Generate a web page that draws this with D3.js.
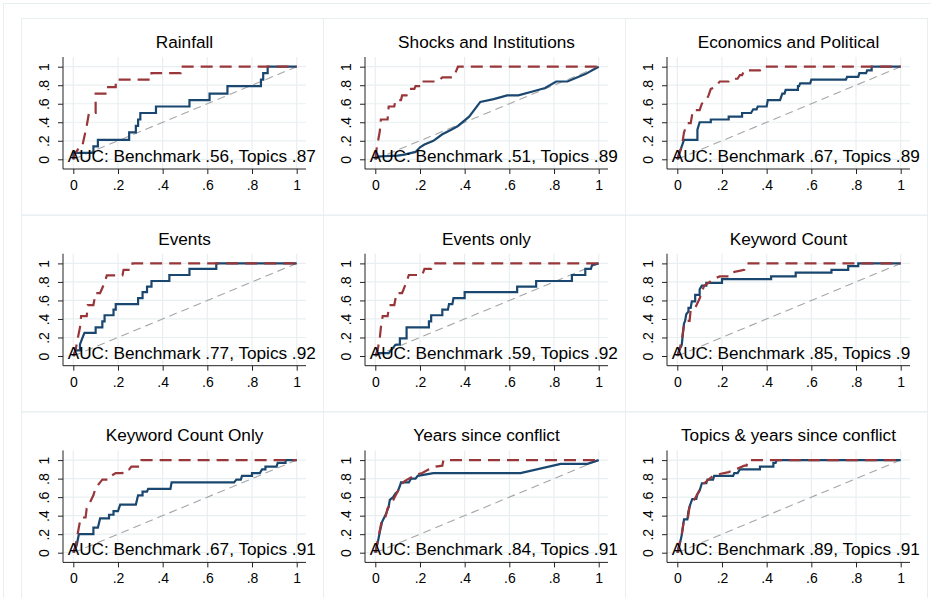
<!DOCTYPE html>
<html>
<head>
<meta charset="utf-8">
<script src="https://cdn.jsdelivr.net/npm/d3@7"></script>
<style>
  body { margin: 0; background: #fff; }
  svg { display: block; font-family: "Liberation Sans", Arial, Helvetica, sans-serif; }
</style>
</head>
<body>
<div id="chart"></div>
<script>
const width = 931;
const height = 598;

const titles = ["Rainfall", "Shocks and Institutions", "Economics and Political",
  "Events", "Events only", "Keyword Count",
  "Keyword Count Only", "Years since conflict", "Topics & years since conflict"];
const aucBenchmark = [".56", ".51", ".67", ".77", ".59", ".85", ".67", ".84", ".89"];
const aucTopics = [".87", ".89", ".89", ".92", ".92", ".9", ".91", ".91", ".91"];
const tickValues = [0, 0.2, 0.4, 0.6, 0.8, 1];
const tickLabels = ["0", ".2", ".4", ".6", ".8", "1"];

// ROC points [false positive rate, true positive rate]
const rainfallTopics = [[0,0],[0.01,0.07],[0.03,0.14],[0.04,0.14],[0.06,0.36],[0.07,0.5],[0.1,0.5],[0.1,0.71],[0.15,0.71],[0.15,0.78],[0.19,0.78],[0.19,0.86],[0.35,0.86],[0.35,0.93],[0.48,0.93],[0.48,1],[1,1]];
const rainfallBench = [[0,0],[0,0.07],[0.09,0.07],[0.09,0.14],[0.11,0.14],[0.11,0.21],[0.25,0.21],[0.25,0.29],[0.28,0.29],[0.28,0.36],[0.29,0.36],[0.29,0.43],[0.3,0.43],[0.3,0.5],[0.37,0.5],[0.37,0.57],[0.52,0.57],[0.52,0.64],[0.61,0.64],[0.61,0.71],[0.69,0.71],[0.69,0.79],[0.84,0.79],[0.84,0.86],[0.85,0.86],[0.85,0.93],[0.87,0.93],[0.87,1],[1,1]];

const shocksTopics = [[0,0],[0.005,0.1],[0.02,0.3],[0.025,0.43],[0.055,0.43],[0.06,0.57],[0.085,0.57],[0.09,0.64],[0.115,0.64],[0.12,0.69],[0.14,0.69],[0.15,0.76],[0.175,0.76],[0.18,0.79],[0.21,0.79],[0.21,0.84],[0.28,0.84],[0.3,0.885],[0.35,0.885],[0.37,1],[1,1]];
const shocksBench = [[0,0],[0.01,0.03],[0.1,0.04],[0.13,0.05],[0.18,0.08],[0.2,0.13],[0.22,0.16],[0.26,0.2],[0.3,0.27],[0.34,0.32],[0.37,0.36],[0.42,0.46],[0.47,0.62],[0.53,0.65],[0.59,0.69],[0.64,0.69],[0.7,0.73],[0.76,0.77],[0.81,0.84],[0.86,0.84],[0.94,0.92],[1,1]];

const econTopics = [[0,0],[0.02,0.14],[0.03,0.29],[0.04,0.36],[0.045,0.39],[0.06,0.39],[0.07,0.53],[0.1,0.53],[0.11,0.6],[0.13,0.64],[0.14,0.69],[0.15,0.76],[0.17,0.78],[0.19,0.84],[0.23,0.84],[0.24,0.87],[0.27,0.87],[0.28,0.91],[0.29,0.91],[0.3,0.96],[0.37,0.96],[0.38,1],[1,1]];
const econBench = [[0,0],[0.01,0.07],[0.02,0.14],[0.03,0.21],[0.09,0.21],[0.09,0.32],[0.1,0.4],[0.15,0.4],[0.15,0.43],[0.23,0.43],[0.23,0.46],[0.29,0.46],[0.29,0.5],[0.33,0.5],[0.34,0.54],[0.355,0.54],[0.36,0.57],[0.4,0.57],[0.405,0.64],[0.46,0.64],[0.47,0.71],[0.48,0.71],[0.485,0.75],[0.54,0.75],[0.54,0.79],[0.545,0.79],[0.55,0.82],[0.595,0.82],[0.6,0.86],[0.755,0.86],[0.76,0.89],[0.81,0.89],[0.815,0.93],[0.845,0.93],[0.85,0.96],[0.87,0.96],[0.87,1],[1,1]];

const eventsTopics = [[0,0],[0.01,0.06],[0.02,0.19],[0.03,0.31],[0.035,0.43],[0.06,0.43],[0.065,0.55],[0.09,0.55],[0.1,0.68],[0.12,0.68],[0.14,0.79],[0.15,0.87],[0.22,0.87],[0.225,0.93],[0.26,0.93],[0.265,1],[1,1]];
const eventsBench = [[0,0],[0.01,0.06],[0.03,0.06],[0.03,0.125],[0.04,0.19],[0.05,0.25],[0.1,0.25],[0.1,0.31],[0.13,0.31],[0.13,0.375],[0.14,0.375],[0.14,0.44],[0.18,0.44],[0.18,0.5],[0.19,0.5],[0.19,0.56],[0.29,0.56],[0.29,0.625],[0.31,0.625],[0.31,0.69],[0.33,0.69],[0.33,0.75],[0.35,0.75],[0.35,0.81],[0.43,0.81],[0.43,0.875],[0.52,0.875],[0.52,0.94],[0.64,0.94],[0.64,1],[1,1]];

const eventsOnlyTopics = [[0,0],[0.01,0.06],[0.02,0.19],[0.025,0.31],[0.033,0.43],[0.055,0.43],[0.063,0.55],[0.085,0.55],[0.095,0.68],[0.12,0.68],[0.14,0.8],[0.15,0.875],[0.21,0.875],[0.22,0.94],[0.25,0.94],[0.255,1],[1,1]];
const eventsOnlyBench = [[0,0],[0.01,0.03],[0.06,0.03],[0.07,0.06],[0.09,0.12],[0.11,0.125],[0.11,0.19],[0.14,0.19],[0.14,0.31],[0.24,0.31],[0.24,0.375],[0.25,0.375],[0.25,0.44],[0.3,0.44],[0.3,0.5],[0.325,0.5],[0.33,0.56],[0.345,0.56],[0.35,0.625],[0.4,0.625],[0.4,0.69],[0.635,0.69],[0.635,0.75],[0.72,0.75],[0.72,0.81],[0.88,0.81],[0.88,0.875],[0.94,0.875],[0.94,0.94],[0.965,0.94],[0.97,0.98],[1,1]];

const keywordTopics = [[0,0],[0.01,0.07],[0.02,0.17],[0.03,0.34],[0.04,0.38],[0.055,0.38],[0.06,0.5],[0.08,0.52],[0.09,0.57],[0.1,0.62],[0.11,0.69],[0.12,0.76],[0.14,0.79],[0.16,0.83],[0.19,0.86],[0.23,0.86],[0.24,0.9],[0.3,0.93],[0.31,1],[1,1]];
const keywordBench = [[0,0],[0.01,0.07],[0.02,0.12],[0.025,0.24],[0.03,0.35],[0.035,0.38],[0.04,0.45],[0.05,0.48],[0.05,0.52],[0.06,0.52],[0.065,0.59],[0.08,0.59],[0.08,0.66],[0.1,0.66],[0.1,0.72],[0.11,0.76],[0.13,0.76],[0.13,0.79],[0.2,0.79],[0.2,0.83],[0.42,0.83],[0.42,0.86],[0.53,0.86],[0.53,0.9],[0.69,0.9],[0.69,0.93],[0.765,0.93],[0.765,0.97],[0.81,0.97],[0.81,1],[1,1]];

const keywordOnlyTopics = [[0,0],[0.01,0.07],[0.02,0.21],[0.03,0.34],[0.035,0.38],[0.055,0.38],[0.06,0.48],[0.07,0.52],[0.09,0.62],[0.1,0.7],[0.12,0.76],[0.13,0.79],[0.16,0.79],[0.17,0.83],[0.19,0.86],[0.22,0.86],[0.23,0.9],[0.25,0.9],[0.26,0.93],[0.3,0.93],[0.305,1],[1,1]];
const keywordOnlyBench = [[0,0],[0.015,0.08],[0.025,0.2],[0.09,0.2],[0.09,0.27],[0.11,0.27],[0.12,0.37],[0.16,0.37],[0.16,0.41],[0.18,0.41],[0.18,0.45],[0.2,0.45],[0.21,0.52],[0.28,0.52],[0.29,0.62],[0.31,0.62],[0.31,0.66],[0.33,0.66],[0.335,0.69],[0.435,0.69],[0.44,0.76],[0.72,0.76],[0.73,0.79],[0.75,0.79],[0.755,0.83],[0.8,0.83],[0.8,0.86],[0.835,0.86],[0.845,0.9],[0.86,0.9],[0.86,0.93],[0.91,0.93],[0.915,0.97],[0.95,0.97],[0.95,1],[1,1]];

const yearsTopics = [[0,0],[0.01,0.12],[0.02,0.24],[0.03,0.36],[0.045,0.38],[0.055,0.48],[0.07,0.52],[0.085,0.59],[0.1,0.66],[0.115,0.73],[0.13,0.77],[0.15,0.8],[0.18,0.84],[0.21,0.86],[0.24,0.9],[0.27,0.93],[0.3,0.94],[0.305,1],[1,1]];
const yearsBench = [[0,0],[0.01,0.1],[0.02,0.22],[0.03,0.33],[0.04,0.38],[0.05,0.43],[0.06,0.5],[0.065,0.57],[0.08,0.6],[0.09,0.64],[0.1,0.66],[0.11,0.72],[0.115,0.76],[0.15,0.76],[0.16,0.8],[0.18,0.8],[0.19,0.83],[0.26,0.86],[0.65,0.86],[0.83,0.96],[0.95,0.96],[1,1]];

const bothTopics = [[0,0],[0.01,0.1],[0.02,0.2],[0.03,0.36],[0.048,0.38],[0.055,0.5],[0.067,0.53],[0.082,0.6],[0.1,0.68],[0.115,0.74],[0.135,0.78],[0.16,0.83],[0.19,0.85],[0.23,0.87],[0.26,0.9],[0.3,0.94],[0.31,0.94],[0.315,1],[1,1]];
const bothBench = [[0,0],[0.01,0.08],[0.02,0.19],[0.03,0.36],[0.045,0.36],[0.05,0.45],[0.058,0.52],[0.067,0.58],[0.085,0.58],[0.09,0.63],[0.1,0.67],[0.11,0.75],[0.13,0.75],[0.135,0.79],[0.16,0.79],[0.165,0.83],[0.25,0.83],[0.255,0.86],[0.27,0.86],[0.28,0.9],[0.37,0.9],[0.37,0.93],[0.43,0.93],[0.43,0.97],[0.44,0.97],[0.445,1],[1,1]];

const topicsCurves = [rainfallTopics, shocksTopics, econTopics, eventsTopics, eventsOnlyTopics,
  keywordTopics, keywordOnlyTopics, yearsTopics, bothTopics];
const benchCurves = [rainfallBench, shocksBench, econBench, eventsBench, eventsOnlyBench,
  keywordBench, keywordOnlyBench, yearsBench, bothBench];

const cellW = 302;
const cellH = 196.7;
const left0 = 21;
const top0 = 18;
const gridColor = "#e8eff1";
const blue = "#1a476f";
const red = "#983639";

const svg = d3.select("#chart")
  .append("svg")
  .attr("width", width)
  .attr("height", height);

svg.append("rect")
  .attr("x", 3.5).attr("y", 3.5)
  .attr("width", 960).attr("height", 640)
  .attr("fill", "none")
  .attr("stroke", gridColor);

const line = d3.line();

titles.forEach((title, i) => {
  const col = i % 3;
  const row = Math.floor(i / 3);
  const L = left0 + col * cellW;
  const T = top0 + row * cellH;

  const g = svg.append("g").attr("class", "panel");

  g.append("rect")
    .attr("x", L + 0.5).attr("y", T + 0.5)
    .attr("width", cellW).attr("height", cellH)
    .attr("fill", "none")
    .attr("stroke", gridColor);

  const x = d3.scaleLinear().domain([0, 1]).range([L + 52.3, L + 275.7]);
  const y = d3.scaleLinear().domain([0, 1]).range([T + 141.3, T + 48.7]);
  const axisLeft = L + 42;
  const axisRight = L + 285;
  const axisTop = T + 39;
  const axisBottom = T + 151;

  // gridlines
  g.selectAll(".hgrid")
    .data(tickValues)
    .enter()
    .append("line")
    .attr("x1", axisLeft).attr("x2", axisRight)
    .attr("y1", d => y(d)).attr("y2", d => y(d))
    .attr("stroke", gridColor).attr("stroke-width", 1.2);

  g.selectAll(".vgrid")
    .data(tickValues)
    .enter()
    .append("line")
    .attr("x1", d => x(d)).attr("x2", d => x(d))
    .attr("y1", axisTop).attr("y2", axisBottom)
    .attr("stroke", gridColor).attr("stroke-width", 1.2);

  // diagonal reference
  g.append("path")
    .attr("d", line([[x(0), y(0)], [x(1), y(1)]]))
    .attr("fill", "none")
    .attr("stroke", "#a6a6a6")
    .attr("stroke-width", 1.1)
    .attr("stroke-dasharray", "8,5");

  g.append("path")
    .attr("d", line(benchCurves[i].map(d => [x(d[0]), y(d[1])])))
    .attr("fill", "none")
    .attr("stroke", blue)
    .attr("stroke-width", 2.2)
    .attr("stroke-linejoin", "miter");

  g.append("path")
    .attr("d", line(topicsCurves[i].map(d => [x(d[0]), y(d[1])])))
    .attr("fill", "none")
    .attr("stroke", red)
    .attr("stroke-width", 2.2)
    .attr("stroke-dasharray", "12,7");

  // axes
  const yAxis = d3.axisLeft(y)
    .tickValues(tickValues)
    .tickFormat((d, k) => tickLabels[k])
    .tickSize(5)
    .tickSizeOuter(0);
  const ya = g.append("g")
    .attr("transform", "translate(" + axisLeft + ",0)")
    .call(yAxis);
  ya.select(".domain").attr("d", "M0," + axisTop + "V" + axisBottom);
  ya.selectAll(".tick line").attr("stroke", "#222");
  ya.selectAll(".tick text")
    .attr("x", null).attr("dy", null)
    .attr("text-anchor", "middle")
    .attr("transform", "translate(-14,0) rotate(-90)")
    .attr("font-size", "14px")
    .attr("font-family", "Liberation Sans, Arial, sans-serif")
    .attr("fill", "#000");

  const xAxis = d3.axisBottom(x)
    .tickValues(tickValues)
    .tickFormat((d, k) => tickLabels[k])
    .tickSize(5)
    .tickSizeOuter(0);
  const xa = g.append("g")
    .attr("transform", "translate(0," + axisBottom + ")")
    .call(xAxis);
  xa.select(".domain").attr("d", "M" + axisLeft + ",0H" + axisRight);
  xa.selectAll(".tick line").attr("stroke", "#222");
  xa.selectAll(".tick text")
    .attr("y", 21).attr("dy", null)
    .attr("font-size", "14px")
    .attr("font-family", "Liberation Sans, Arial, sans-serif")
    .attr("fill", "#000");
  ya.select(".domain").attr("stroke", "#222");
  xa.select(".domain").attr("stroke", "#222");

  g.append("text")
    .attr("x", (axisLeft + axisRight) / 2)
    .attr("y", T + 30)
    .attr("text-anchor", "middle")
    .attr("font-size", "17.2px")
    .attr("fill", "#000")
    .text(title);

  g.append("text")
    .attr("x", x(-0.025))
    .attr("y", y(-0.03))
    .attr("font-size", "17.2px")
    .attr("fill", "#000")
    .text("AUC: Benchmark " + aucBenchmark[i] + ", Topics " + aucTopics[i]);
});
</script>
</body>
</html>
